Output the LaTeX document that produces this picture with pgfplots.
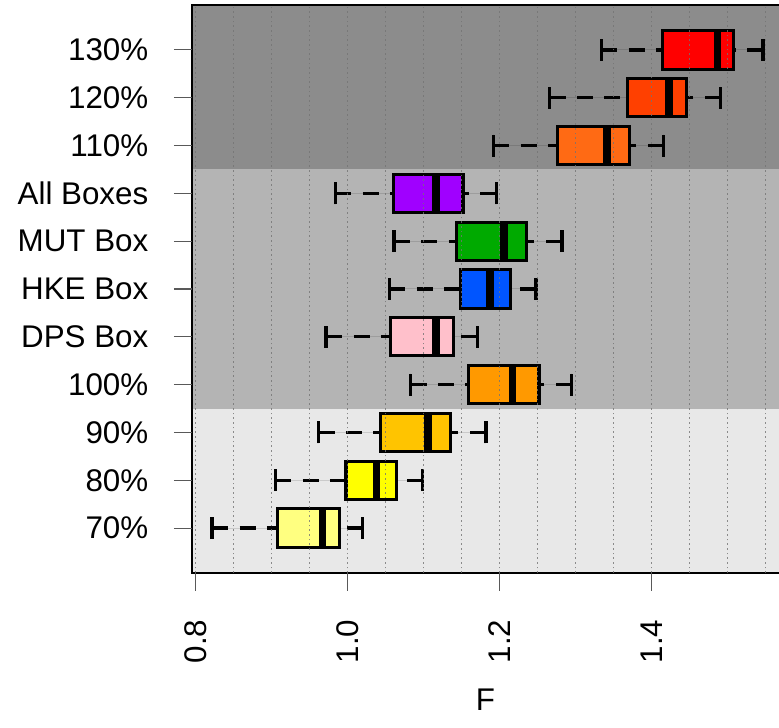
\documentclass[border=0pt]{standalone}
\usepackage{pgfplots}
\pgfplotsset{compat=1.18}
\usepgfplotslibrary{statistics}
\usepackage{fontspec}
\setmainfont{Liberation Sans}
\newcommand\fsz{\fontsize{23.5}{28}\selectfont}
\definecolor{c130}{HTML}{FF0000}
\definecolor{c120}{HTML}{FF4000}
\definecolor{c110}{HTML}{FF6A14}
\definecolor{call}{HTML}{A000FF}
\definecolor{cmut}{HTML}{00AA00}
\definecolor{chke}{HTML}{0055FF}
\definecolor{cdps}{HTML}{FFC0CB}
\definecolor{c100}{HTML}{FF9900}
\definecolor{c90}{HTML}{FFC400}
\definecolor{c80}{HTML}{FFFF00}
\definecolor{c70}{HTML}{FFFF80}
\definecolor{bdark}{HTML}{8C8C8C}
\definecolor{bmid}{HTML}{B4B4B4}
\definecolor{blight}{HTML}{E8E8E8}
\pgfplotsset{
  boxplot/draw/lower whisker/.code={%
    \draw[black, line width=2.5pt, dash pattern=on 12pt off 8.5pt]
      (boxplot cs:\pgfplotsboxplotvalue{lower whisker},0) -- (boxplot cs:\pgfplotsboxplotvalue{lower quartile},0);
    \draw[black, line width=2.6pt, solid]
      (boxplot cs:\pgfplotsboxplotvalue{lower whisker},-0.23) -- (boxplot cs:\pgfplotsboxplotvalue{lower whisker},0.23);
  },
  boxplot/draw/upper whisker/.code={%
    \draw[black, line width=2.5pt, dash pattern=on 12pt off 8.5pt]
      (boxplot cs:\pgfplotsboxplotvalue{upper whisker},0) -- (boxplot cs:\pgfplotsboxplotvalue{upper quartile},0);
    \draw[black, line width=2.6pt, solid]
      (boxplot cs:\pgfplotsboxplotvalue{upper whisker},-0.23) -- (boxplot cs:\pgfplotsboxplotvalue{upper whisker},0.23);
  },
}
\begin{document}
\begin{tikzpicture}
\begin{axis}[
  name=ax, at={(0,0)}, anchor=south west,
  set layers, axis on top,
  scale only axis, width=440.25pt, height=426pt,
  xmin=0.7954, xmax=1.5678, ymin=0.06, ymax=11.94,
  axis line style={draw=none},
  tick pos=left, tick align=outside,
  major tick length=13.5pt,
  tick style={black!65, line width=0.8pt},
  xtick={0.8,1.0,1.2,1.4},
  xticklabels={0.8,1.0,1.2,1.4},
  ytick={1,2,3,4,5,6,7,8,9,10,11},
  yticklabels={70\%,80\%,90\%,100\%,DPS Box,HKE Box,MUT Box,All Boxes,110\%,120\%,130\%},
  ticklabel style={font=\fsz},
  xticklabel style={rotate=90, anchor=east},
  yticklabel style={anchor=east},
  xticklabel shift=18pt,
  yticklabel shift=15.75pt,
  extra x ticks={0.8,0.85,0.9,0.95,1.0,1.05,1.1,1.15,1.2,1.25,1.3,1.35,1.4,1.45,1.5,1.55},
  extra x tick labels={},
  extra x tick style={major tick length=0pt, grid=major},
  major grid style={black!55, opacity=0.8, line width=1pt, dash pattern=on 1.3pt off 2.2pt},
  xlabel={F},
  xlabel style={font=\fsz, at={(axis description cs:0.5,0)}, anchor=base, yshift=-103pt},
  boxplot/draw direction=x,
  boxplot/box extend=0.8,
  boxplot/every median/.style={black, line width=5.8pt},
  boxplot/every box/.style={draw=black, line width=2.3pt},
]
\begin{pgfonlayer}{axis background}
\fill[blight] (axis cs:0.7954,0.06) rectangle (axis cs:1.5678,3.5);
\fill[bmid] (axis cs:0.7954,3.5) rectangle (axis cs:1.5678,8.5);
\fill[bdark] (axis cs:0.7954,8.5) rectangle (axis cs:1.5678,11.94);
\end{pgfonlayer}
% 70%
\addplot[fill=c70, draw=black, boxplot prepared={draw position=1, lower whisker=0.822, lower quartile=0.908, median=0.967, upper quartile=0.989, upper whisker=1.020}] coordinates {};
% 80%
\addplot[fill=c80, draw=black, boxplot prepared={draw position=2, lower whisker=0.905, lower quartile=0.998, median=1.038, upper quartile=1.064, upper whisker=1.099}] coordinates {};
% 90%
\addplot[fill=c90, draw=black, boxplot prepared={draw position=3, lower whisker=0.962, lower quartile=1.044, median=1.106, upper quartile=1.135, upper whisker=1.182}] coordinates {};
% 100%
\addplot[fill=c100, draw=black, boxplot prepared={draw position=4, lower whisker=1.083, lower quartile=1.159, median=1.217, upper quartile=1.252, upper whisker=1.295}] coordinates {};
% DPS Box
\addplot[fill=cdps, draw=black, boxplot prepared={draw position=5, lower whisker=0.972, lower quartile=1.056, median=1.116, upper quartile=1.139, upper whisker=1.171}] coordinates {};
% HKE Box
\addplot[fill=chke, draw=black, boxplot prepared={draw position=6, lower whisker=1.055, lower quartile=1.149, median=1.188, upper quartile=1.214, upper whisker=1.248}] coordinates {};
% MUT Box
\addplot[fill=cmut, draw=black, boxplot prepared={draw position=7, lower whisker=1.061, lower quartile=1.143, median=1.206, upper quartile=1.235, upper whisker=1.282}] coordinates {};
% All Boxes
\addplot[fill=call, draw=black, boxplot prepared={draw position=8, lower whisker=0.984, lower quartile=1.060, median=1.116, upper quartile=1.152, upper whisker=1.196}] coordinates {};
% 110%
\addplot[fill=c110, draw=black, boxplot prepared={draw position=9, lower whisker=1.192, lower quartile=1.276, median=1.341, upper quartile=1.371, upper whisker=1.416}] coordinates {};
% 120%
\addplot[fill=c120, draw=black, boxplot prepared={draw position=10, lower whisker=1.266, lower quartile=1.368, median=1.423, upper quartile=1.446, upper whisker=1.491}] coordinates {};
% 130%
\addplot[fill=c130, draw=black, boxplot prepared={draw position=11, lower whisker=1.334, lower quartile=1.414, median=1.487, upper quartile=1.508, upper whisker=1.547}] coordinates {};
\end{axis}
\draw[black, line width=2.2pt] ([xshift=2pt]ax.north east) -- (ax.north west) -- (ax.south west) -- ([xshift=2pt]ax.south east);
\pgfresetboundingbox
\path ([shift={(-144pt,-116.25pt)}]ax.south west) rectangle ([shift={(0pt,3.75pt)}]ax.north east);
\end{tikzpicture}
\end{document}
